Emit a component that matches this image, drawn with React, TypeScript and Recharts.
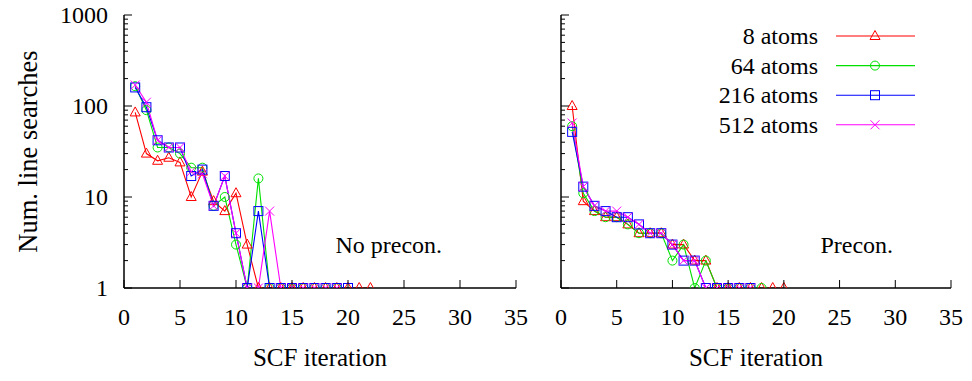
import React from 'react';
import { LineChart, Line, XAxis, YAxis, ReferenceDot } from 'recharts';

const FONT = '"Liberation Serif", "DejaVu Serif", serif';
const FS = 24;

const seriesNames = ['8 atoms', '64 atoms', '216 atoms', '512 atoms'];
const seriesColors = ['#ff0000', '#00e000', '#0000ff', '#ff00ff'];
const seriesMarkers = ['triangle', 'circle', 'square', 'cross'];

// Left panel: No precon. (values for SCF iteration 1, 2, 3, ...)
const noPrecon8 = [85, 30, 25, 27, 24, 10, 19, 9, 7, 11, 3, 1, 1, 1, 1, 1, 1, 1, 1, 1, 1, 1];
const noPrecon64 = [165, 90, 35, 35, 30, 21, 21, 8, 10, 3, 1, 16, 1, 1, 1, 1, 1, 1, 1];
const noPrecon216 = [160, 97, 42, 35, 35, 17, 20, 8, 17, 4, 1, 7, 1, 1, 1, 1, 1, 1, 1, 1];
const noPrecon512 = [170, 110, 42, 35, 35, 19, 18, 8, 17, 4, 1, 1, 7, 1, 1, 1, 1, 1, 1];

// Right panel: Precon.
const precon8 = [100, 9, 7, 6, 6, 5, 4, 4, 4, 3, 3, 2, 2, 1, 1, 1, 1, 1, 1, 1];
const precon64 = [60, 11, 7, 6, 6, 5, 4, 4, 4, 2, 3, 1, 2, 1, 1, 1, 1, 1];
const precon216 = [52, 13, 8, 7, 6, 6, 5, 4, 4, 3, 2, 2, 1, 1, 1, 1, 1];
const precon512 = [65, 13, 8, 7, 7, 6, 5, 4, 4, 3, 2, 2, 1, 1, 1, 1, 1];

const xTicks = [0, 5, 10, 15, 20, 25, 30, 35];
const yMajor = [1, 10, 100, 1000];
const yMinor = [2, 3, 4, 5, 6, 7, 8, 9, 20, 30, 40, 50, 60, 70, 80, 90, 200, 300, 400, 500, 600, 700, 800, 900];
const yTicks = [...yMajor, ...yMinor].sort((a, b) => a - b);

const xLabel = 'SCF iteration';
const yLabel = 'Num. line searches';
const leftNote = { text: 'No precon.', x: 28.4, y: 3 };
const rightNote = { text: 'Precon.', x: 29.8, y: 3 };

const toPoints = (arr: number[]) => arr.map((v, i) => ({ x: i + 1, y: v }));

function Marker({ kind, cx, cy, color }: { kind: string; cx: number; cy: number; color: string }) {
  const s = 4.5;
  if (kind === 'triangle') {
    return (
      <polygon
        points={`${cx},${cy - 5.5} ${cx - 5},${cy + 3.5} ${cx + 5},${cy + 3.5}`}
        fill="none"
        stroke={color}
        strokeWidth={1}
      />
    );
  }
  if (kind === 'circle') {
    return <circle cx={cx} cy={cy} r={s} fill="none" stroke={color} strokeWidth={1} />;
  }
  if (kind === 'square') {
    return <rect x={cx - s} y={cy - s} width={2 * s} height={2 * s} fill="none" stroke={color} strokeWidth={1} />;
  }
  return (
    <g stroke={color} strokeWidth={1}>
      <line x1={cx - s} y1={cy - s} x2={cx + s} y2={cy + s} />
      <line x1={cx - s} y1={cy + s} x2={cx + s} y2={cy - s} />
    </g>
  );
}

const makeDot = (kind: string, color: string, name: string) => (p: any) => {
  const key = `${name}-${p.index}`;
  if (p.cx == null || p.cy == null || isNaN(p.cx) || isNaN(p.cy)) return <g key={key} />;
  return (
    <g key={key}>
      <Marker kind={kind} cx={p.cx} cy={p.cy} color={color} />
    </g>
  );
};

const textStyle = { fontFamily: FONT, fontSize: FS, fill: '#000' };

const LeftYTick = (showLabel: boolean) => (p: any) => {
  const v = p.payload.value;
  const major = yMajor.includes(v);
  const len = major ? 8 : 4;
  return (
    <g>
      <line x1={p.x} y1={p.y} x2={p.x + len} y2={p.y} stroke="#000" strokeWidth={1} />
      {showLabel && major && (
        <text x={p.x - 16} y={p.y} dy="0.33em" textAnchor="end" style={textStyle}>
          {v}
        </text>
      )}
    </g>
  );
};

const RightYTick = (p: any) => {
  const v = p.payload.value;
  const major = yMajor.includes(v);
  const len = major ? 8 : 4;
  return <line x1={p.x - len} y1={p.y} x2={p.x} y2={p.y} stroke="#000" strokeWidth={1} />;
};

const BottomXTick = (p: any) => (
  <g>
    <line x1={p.x} y1={p.y} x2={p.x} y2={p.y - 8} stroke="#000" strokeWidth={1} />
    <text x={p.x} y={p.y + 37} textAnchor="middle" style={textStyle}>
      {p.payload.value}
    </text>
  </g>
);

const TopXTick = (p: any) => <line x1={p.x} y1={p.y} x2={p.x} y2={p.y + 8} stroke="#000" strokeWidth={1} />;

const axisLine = { stroke: '#000', strokeWidth: 1.5 };

function Panel({
  width,
  yAxisWidth,
  marginRight,
  showYLabels,
  series,
  note,
}: {
  width: number;
  yAxisWidth: number;
  marginRight: number;
  showYLabels: boolean;
  series: number[][];
  note: { text: string; x: number; y: number };
}) {
  return (
    <LineChart width={width} height={381} margin={{ top: 15, right: marginRight, bottom: 0, left: 0 }}>
      <XAxis
        xAxisId="b"
        dataKey="x"
        type="number"
        domain={[0, 35]}
        allowDataOverflow
        ticks={xTicks}
        interval={0}
        height={93}
        tickSize={0}
        tickMargin={0}
        tickLine={false}
        axisLine={axisLine}
        tick={BottomXTick}
        label={(lp: any) => {
          const vb = lp.viewBox;
          return (
            <text
              x={vb.x + vb.width / 2}
              y={vb.y + 78}
              textAnchor="middle"
              style={{ ...textStyle, fontSize: 25 }}
            >
              {xLabel}
            </text>
          );
        }}
      />
      <XAxis
        xAxisId="t"
        orientation="top"
        type="number"
        domain={[0, 35]}
        allowDataOverflow
        ticks={xTicks}
        interval={0}
        height={0}
        tickSize={0}
        tickMargin={0}
        tickLine={false}
        axisLine={axisLine}
        tick={TopXTick}
      />
      <YAxis
        yAxisId="l"
        type="number"
        scale="log"
        domain={[1, 1000]}
        allowDataOverflow
        ticks={yTicks}
        interval={0}
        width={yAxisWidth}
        tickSize={0}
        tickMargin={0}
        tickLine={false}
        axisLine={axisLine}
        tick={LeftYTick(showYLabels)}
        label={
          showYLabels
            ? (lp: any) => {
                const vb = lp.viewBox;
                const cx = vb.x + 37;
                const cy = vb.y + vb.height / 2;
                return (
                  <text
                    x={cx}
                    y={cy}
                    transform={`rotate(-90 ${cx} ${cy})`}
                    textAnchor="middle"
                    style={{ ...textStyle, fontSize: 26.5 }}
                  >
                    {yLabel}
                  </text>
                );
              }
            : undefined
        }
      />
      <YAxis
        yAxisId="r"
        orientation="right"
        type="number"
        scale="log"
        domain={[1, 1000]}
        allowDataOverflow
        ticks={yTicks}
        interval={0}
        width={0}
        tickSize={0}
        tickMargin={0}
        tickLine={false}
        axisLine={axisLine}
        tick={RightYTick}
      />
      {series.map((s, i) => (
        <Line
          key={seriesNames[i]}
          xAxisId="b"
          yAxisId="l"
          data={toPoints(s)}
          dataKey="y"
          name={seriesNames[i]}
          stroke={seriesColors[i]}
          strokeWidth={1.1}
          dot={makeDot(seriesMarkers[i], seriesColors[i], seriesNames[i])}
          activeDot={false}
          isAnimationActive={false}
        />
      ))}
      <ReferenceDot
        xAxisId="b"
        yAxisId="l"
        x={note.x}
        y={note.y}
        r={0}
        fill="none"
        stroke="none"
        label={(lp: any) => {
          const vb = lp.viewBox;
          return (
            <text x={vb.x} y={vb.y} dy="0.33em" textAnchor="end" style={textStyle}>
              {note.text}
            </text>
          );
        }}
      />
    </LineChart>
  );
}

function LegendBox() {
  return (
    <svg width={240} height={130} style={{ position: 'absolute', left: 700, top: 15 }}>
      {seriesNames.map((n, i) => {
        const y = 21 + i * 29.6;
        return (
          <g key={n}>
            <text x={118} y={y} dy="0.33em" textAnchor="end" style={textStyle}>
              {n}
            </text>
            <line x1={136} y1={y} x2={215} y2={y} stroke={seriesColors[i]} strokeWidth={1.1} />
            <Marker kind={seriesMarkers[i]} cx={175} cy={y} color={seriesColors[i]} />
          </g>
        );
      })}
    </svg>
  );
}

export default function App() {
  return (
    <div style={{ position: 'absolute', left: 0, top: 0, width: 972, height: 381, background: '#fff' }}>
      <div style={{ position: 'absolute', left: 0, top: 0 }}>
        <Panel
          width={530}
          yAxisWidth={124}
          marginRight={14}
          showYLabels
          series={[noPrecon8, noPrecon64, noPrecon216, noPrecon512]}
          note={leftNote}
        />
      </div>
      <div style={{ position: 'absolute', left: 530, top: 0 }}>
        <Panel
          width={442}
          yAxisWidth={31}
          marginRight={21}
          showYLabels={false}
          series={[precon8, precon64, precon216, precon512]}
          note={rightNote}
        />
      </div>
      <LegendBox />
    </div>
  );
}
